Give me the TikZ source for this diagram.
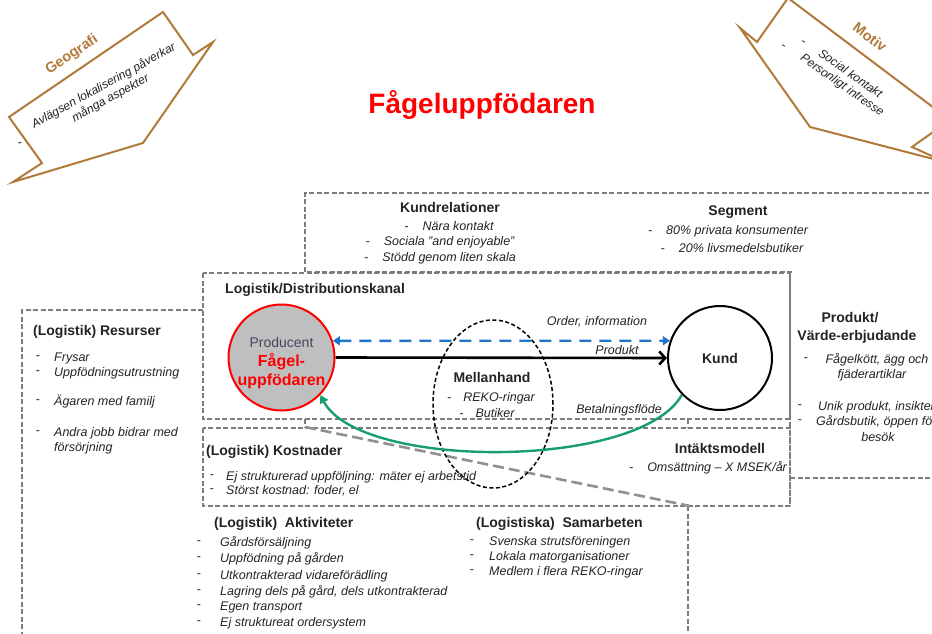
\documentclass[tikz,border=0pt]{standalone}
\usepackage{fontspec}
\setmainfont{Liberation Sans}
\usetikzlibrary{arrows.meta,shapes.geometric}
\definecolor{framegray}{RGB}{125,125,125}
\definecolor{brownline}{RGB}{176,122,58}
\definecolor{flowblue}{RGB}{30,118,204}
\definecolor{flowgreen}{RGB}{22,158,112}
\definecolor{prodfill}{RGB}{191,191,191}
\definecolor{txt}{RGB}{35,35,35}
\definecolor{prodtxt}{RGB}{70,70,90}

\begin{document}
\begin{tikzpicture}[x=1pt,y=-1pt,
  frameline/.style={draw=framegray, line width=1.3pt, dash pattern=on 5pt off 2.5pt},
  diagline/.style={draw=framegray!85, line width=2.6pt, dash pattern=on 11pt off 5pt},
  arrowshape/.style={draw=brownline, line width=2pt, line join=miter, fill=white},
  shapelabel/.style={font=\fontsize{14.5}{16}\selectfont\bfseries, text=brownline, inner sep=0pt},
  hd/.style={font=\fontsize{14}{16}\selectfont\bfseries, text=txt, inner sep=0pt},
  bl/.style={font=\fontsize{12.5}{15}\selectfont\itshape, text=txt, inner sep=0pt},
  dashsign/.style={font=\fontsize{12.5}{15}\selectfont, text=txt, inner sep=0pt},
  flowlabel/.style={font=\fontsize{12.5}{15}\selectfont\itshape, text=txt, inner sep=0pt}
]
\useasboundingbox (0,0) rectangle (932,634);
\clip (0,0) rectangle (932,634);

% ---- the two notched arrow callouts in the corners
\draw[arrowshape] (9,117)--(163,12)--(193,55)--(213,42)--(143,143)--(13,182)--(42,163)--cycle;
\node[shapelabel, rotate=34] (geo) at (72,55) {Geografi};
\node[bl, font=\fontsize{12}{14}\selectfont\itshape, rotate=29, align=center] (geotxt) at (107,92) {Avlägsen lokalisering påverkar\\många aspekter};
\node[dashsign] (geodash) at (20,145) {-};

\draw[arrowshape] (740,28)--(757,42)--(788,-2)--(950,120)--(912,147)--(945,162)--(810,127)--cycle;
\node[shapelabel, rotate=-37] (motiv) at (870,37) {Motiv};
\node[bl, font=\fontsize{12}{14}\selectfont\itshape, rotate=-35, align=center] (motivtxt) at (846,80) {Social kontakt\\Personligt intresse};
\node[dashsign, rotate=-35] (md1) at (783,47) {-};
\node[dashsign, rotate=-35] (md2) at (803,43) {-};

% ---- title
\node[font=\fontsize{28}{32}\selectfont\bfseries, text=red] (title) at (482,105) {Fågeluppfödaren};

% ---- dashed canvas frames
\draw[frameline] (792,272)--(305,272)--(305,193)--(945,193);
\draw[frameline] (790,272)--(790,506);
\draw[frameline] (790,478)--(945,478);
\draw[frameline] (203,273) rectangle (790,419);
\draw[frameline] (203,428) rectangle (790,506);
\draw[frameline] (203,310)--(22,310)--(22,640);
\draw[frameline] (688,506)--(688,640);
\draw[frameline] (305,419)--(305,428);
\draw[frameline] (688,419)--(688,428);
\draw[diagline] (305,427)--(690,506);

% ---- Kundrelationer / Segment
\node[hd] (kr) at (450,207) {Kundrelationer};
\node[bl] (kr1) at (449,226) {-\hspace{14pt}Nära kontakt};
\node[bl] (kr2) at (440,242) {-\hspace{14pt}Sociala "and enjoyable"};
\node[bl] (kr3) at (440,258) {-\hspace{14pt}Stödd genom liten skala};
\node[hd] (seg) at (738,212) {Segment};
\node[bl] (seg1) at (728,231) {-\hspace{14pt}80\% privata konsumenter};
\node[bl] (seg2) at (732,248) {-\hspace{14pt}20\% livsmedelsbutiker};

% ---- distribution channel
\node[hd, anchor=west] (dist) at (225,290) {Logistik/Distributionskanal};

\node[ellipse, draw=black, line width=1.5pt, dash pattern=on 4pt off 2.5pt,
      minimum width=120pt, minimum height=168pt] (mell) at (493,404) {};
\node[hd] (mellhd) at (492,377) {Mellanhand};
\node[bl] (mell1) at (491,398) {-\hspace{12pt}REKO-ringar};
\node[bl] (mell2) at (487,413) {-\hspace{12pt}Butiker};

\node[circle, draw=red, line width=2pt, fill=prodfill, minimum size=106pt, inner sep=0pt] (prod) at (281.5,357.5) {};
\node[font=\fontsize{14}{16}\selectfont, text=prodtxt, inner sep=0pt] (prodA) at (281.5,342) {Producent};
\node[font=\fontsize{16}{18}\selectfont\bfseries, text=red, inner sep=0pt] (prodB) at (281.5,362) {Fågel-};
\node[font=\fontsize{16}{18}\selectfont\bfseries, text=red, inner sep=0pt] (prodC) at (281.5,381) {uppfödaren};

\node[circle, draw=black, line width=2pt, fill=white, minimum size=104pt, inner sep=0pt,
      font=\fontsize{14}{16}\selectfont\bfseries, text=txt] (kund) at (720,358) {Kund};

\draw[flowblue, line width=2.4pt, dash pattern=on 12pt off 8pt,
      {Triangle[length=7pt,width=9pt]}-{Triangle[length=7pt,width=9pt]}] (prod.18) -- (kund.161);
\draw[black, line width=2.6pt, -{Straight Barb[length=6pt,width=13pt,line width=2.6pt]}] (prod.east) -- (kund.west);
\draw[flowgreen, line width=2.4pt, -{Triangle[length=8pt,width=9pt]}]
  (kund.224) .. controls (640,470) and (360,470) .. (prod.316);

\node[flowlabel] (lblorder) at (597,322) {Order, information};
\node[flowlabel] (lblprod) at (617,350) {Produkt};
\node[flowlabel] (lblpay) at (619,410) {Betalningsflöde};

% ---- resources
\node[hd, anchor=west] (res) at (33,332) {(Logistik) Resurser};
\node[dashsign] (rd1) at (38,358) {-};
\node[bl, anchor=west] (r1) at (54,358) {Frysar};
\node[dashsign] (rd2) at (38,373) {-};
\node[bl, anchor=west] (r2) at (54,373) {Uppfödningsutrustning};
\node[dashsign] (rd3) at (38,402) {-};
\node[bl, anchor=west] (r3) at (54,402) {Ägaren med familj};
\node[dashsign] (rd4) at (38,433) {-};
\node[bl, anchor=west] (r4) at (54,433) {Andra jobb bidrar med};
\node[bl, anchor=west] (r5) at (54,448) {försörjning};

% ---- costs and revenue
\node[hd, anchor=west] (cost) at (206,452) {(Logistik) Kostnader};
\node[dashsign] (cd1) at (212,477) {-};
\node[bl, anchor=west] (c1) at (226,477) {Ej strukturerad uppföljning: mäter ej arbetstid};
\node[dashsign] (cd2) at (212,491) {-};
\node[bl, anchor=west] (c2) at (226,491) {Störst kostnad: foder, el};

\node[hd] (rev) at (720,448) {Intäktsmodell};
\node[bl] (rev1) at (708,468) {-\hspace{14pt}Omsättning – X MSEK/år};

% ---- value proposition
\node[hd] (vp1) at (850,318) {Produkt/};
\node[hd] (vp2) at (857,337) {Värde-erbjudande};
\node[dashsign] (vd1) at (806,360) {-};
\node[bl] (v1) at (877,360) {Fågelkött, ägg och};
\node[bl] (v2) at (872,375) {fjäderartiklar};
\node[dashsign] (vd2) at (800,407) {-};
\node[bl, anchor=west] (v3) at (818,407) {Unik produkt, insikter};
\node[dashsign] (vd3) at (800,422) {-};
\node[bl, anchor=west] (v4) at (816,422) {Gårdsbutik, öppen för};
\node[bl] (v5) at (878,437) {besök};

% ---- activities and partnerships
\node[hd, anchor=west] (act) at (214,524) {(Logistik)\ \ Aktiviteter};
\node[dashsign] (ad1) at (199,543) {-};
\node[bl, anchor=west] (a1) at (220,543) {Gårdsförsäljning};
\node[dashsign] (ad2) at (199,559) {-};
\node[bl, anchor=west] (a2) at (220,559) {Uppfödning på gården};
\node[dashsign] (ad3) at (199,576) {-};
\node[bl, anchor=west] (a3) at (220,576) {Utkontrakterad vidareförädling};
\node[dashsign] (ad4) at (199,592) {-};
\node[bl, anchor=west] (a4) at (220,592) {Lagring dels på gård, dels utkontrakterad};
\node[dashsign] (ad5) at (199,607) {-};
\node[bl, anchor=west] (a5) at (220,607) {Egen transport};
\node[dashsign] (ad6) at (199,623) {-};
\node[bl, anchor=west] (a6) at (220,623) {Ej struktureat ordersystem};

\node[hd, anchor=west] (coop) at (476,524) {(Logistiska)\ \ Samarbeten};
\node[dashsign] (sd1) at (472,542) {-};
\node[bl, anchor=west] (s1) at (489,542) {Svenska strutsföreningen};
\node[dashsign] (sd2) at (472,557) {-};
\node[bl, anchor=west] (s2) at (489,557) {Lokala matorganisationer};
\node[dashsign] (sd3) at (472,572) {-};
\node[bl, anchor=west] (s3) at (489,572) {Medlem i flera REKO-ringar};
\end{tikzpicture}
\end{document}
